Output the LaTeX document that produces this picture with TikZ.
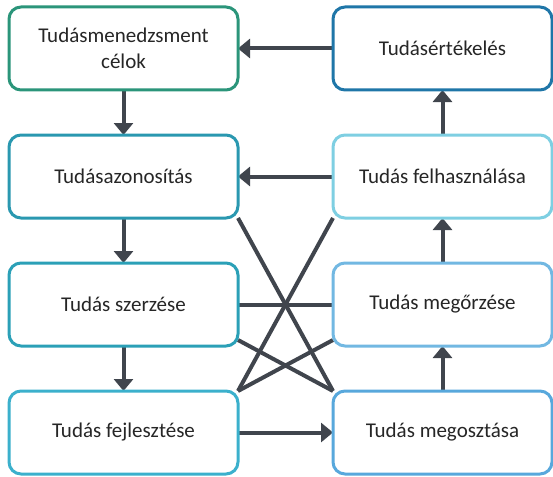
\documentclass[tikz,border=0pt]{standalone}
\usepackage{fontspec}
\setmainfont{Carlito}
\usetikzlibrary{arrows.meta,positioning,backgrounds}
\definecolor{cline}{HTML}{40454D}
\definecolor{cgoal}{HTML}{2B957A}
\definecolor{cident}{HTML}{2A98B0}
\definecolor{cacq}{HTML}{2BA0B7}
\definecolor{cdev}{HTML}{3BB0CC}
\definecolor{ceval}{HTML}{1F76A8}
\definecolor{cuse}{HTML}{7ECFE2}
\definecolor{ckeep}{HTML}{72B8E2}
\definecolor{cshare}{HTML}{58A8DC}

\begin{document}
\begin{tikzpicture}[x=1pt,y=-1pt,
  box/.style={draw,line width=3pt,rounded corners=12pt,fill=white,outer sep=0pt,
    minimum width=229pt,minimum height=83pt,align=center,
    font=\fontsize{21}{26}\selectfont,text=black!85},
  rbox/.style={box,minimum width=219pt},
  flow/.style={draw=cline,line width=4pt,-{Triangle[width=19pt,length=12pt]}},
  link/.style={draw=cline,line width=4pt},
  node distance=45pt and 95pt]
\useasboundingbox (0,0) rectangle (553,476);
\node[box,draw=cgoal] (goals) at (123.5,48.5) {Tudásmenedzsment\\célok};
\node[box,draw=cident,below=of goals] (ident) {Tudásazonosítás};
\node[box,draw=cacq,below=of ident] (acq) {Tudás szerzése};
\node[box,draw=cdev,below=of acq] (dev) {Tudás fejlesztése};
\node[rbox,draw=ceval,right=of goals] (eval) {Tudásértékelés};
\node[rbox,draw=cuse,right=of ident] (use) {Tudás felhasználása};
\node[rbox,draw=ckeep,right=of acq] (keep) {Tudás megőrzése};
\node[rbox,draw=cshare,right=of dev] (share) {Tudás megosztása};
\begin{scope}[on background layer]
\draw[flow] (eval) -- (goals);
\draw[flow] (goals) -- (ident);
\draw[flow] (use) -- (ident);
\draw[flow] (ident) -- (acq);
\draw[flow] (acq) -- (dev);
\draw[flow] (dev) -- (share);
\draw[flow] (share) -- (keep);
\draw[flow] (keep) -- (use);
\draw[flow] (use) -- (eval);
\draw[link] (ident.south east) -- (share.north west);
\draw[link] (acq) -- (keep);
\draw[link] ([yshift=6pt]acq.south east) -- (share.north west);
\draw[link] (dev.north east) -- (use.south west);
\draw[link] (dev.north east) -- ([yshift=6pt]keep.south west);
\end{scope}
\end{tikzpicture}
\end{document}
